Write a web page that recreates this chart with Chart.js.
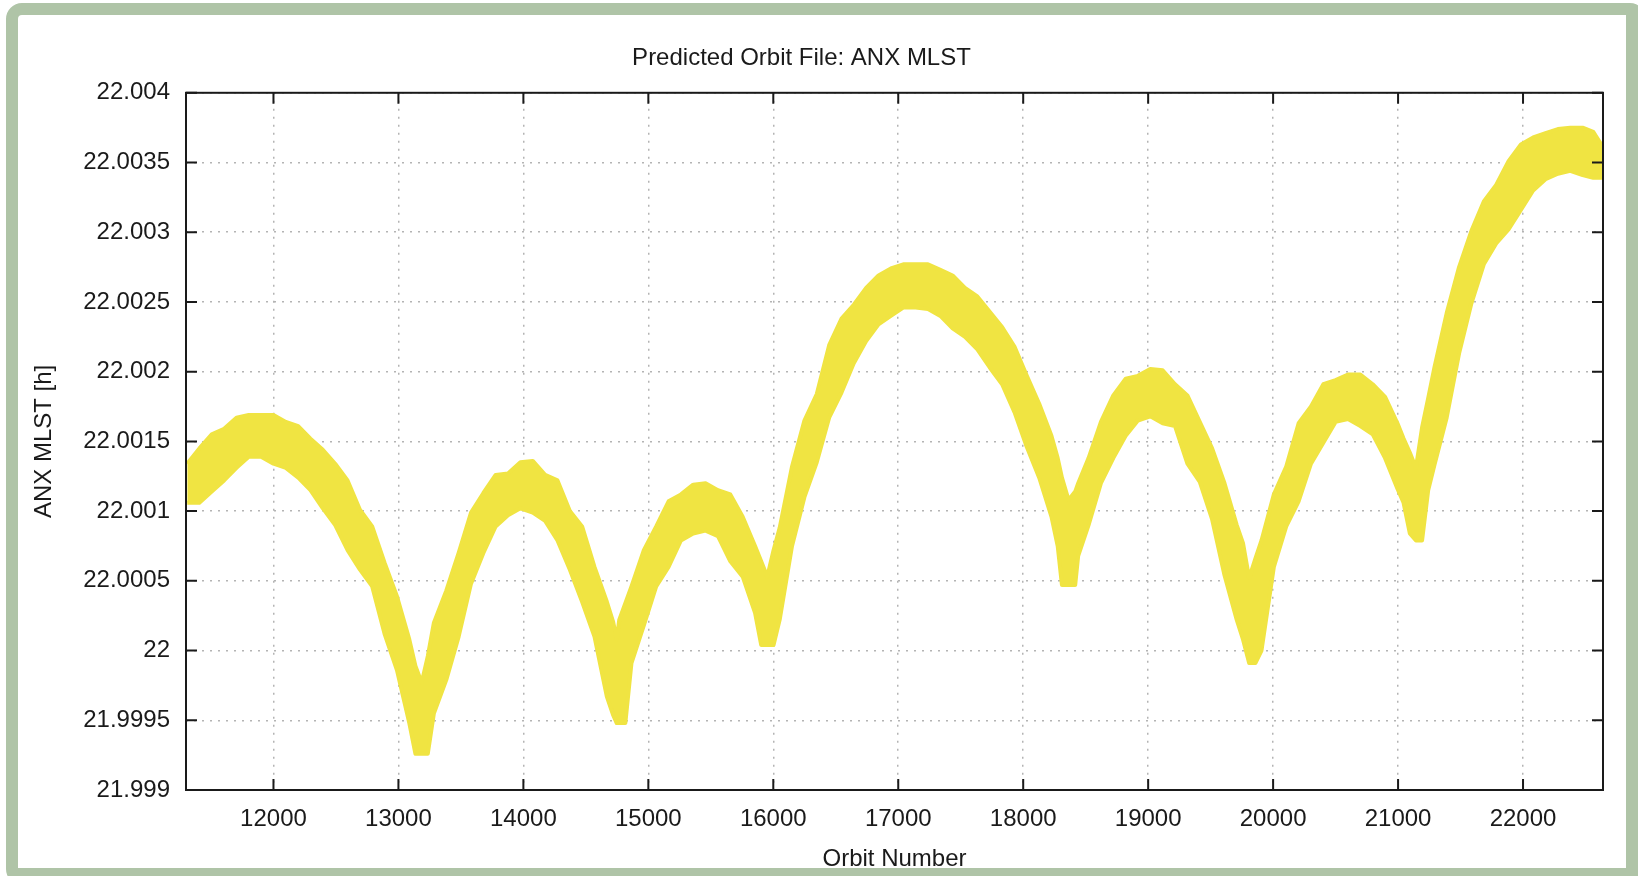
<!DOCTYPE html>
<html lang="en">
<head>
    <meta charset="UTF-8">
    <title>Predicted Orbit File: ANX MLST</title>
    <script src="https://cdn.jsdelivr.net/npm/chart.js"></script>
    <style>
        html, body { margin: 0; padding: 0; background: #fff; overflow: hidden; }
        #frame {
            position: absolute; left: 6px; top: 3px; width: 1640px; height: 882px;
            box-sizing: border-box; border: 12px solid #afc4a7;
            border-right-width: 20px; border-bottom-width: 17px;
            border-radius: 16px; background: #fff;
        }
        #wrap { position: absolute; left: 0; top: 0; width: 1638px; height: 876px; }
    </style>
</head>
<body>
    <div id="frame"></div>
    <div id="wrap"><canvas id="mlstChart"></canvas></div>

    <script>
        // orbit numbers and the upper / lower edge of the MLST band (hours)
        const orbits = [
            11310, 11407, 11506, 11605, 11704, 11802, 11901, 12000, 12099, 12198,
            12296, 12395, 12494, 12593, 12692, 12790, 12889, 12988, 13087, 13136,
            13186, 13235, 13284, 13383, 13482, 13581, 13680, 13778, 13877, 13976,
            14075, 14174, 14273, 14372, 14470, 14569, 14668, 14717, 14747, 14767,
            14816, 14865, 14964, 15063, 15162, 15261, 15359, 15458, 15557, 15656,
            15755, 15854, 15903, 15952, 16002, 16051, 16150, 16249, 16348, 16447,
            16546, 16644, 16743, 16842, 16941, 17040, 17139, 17238, 17337, 17435,
            17534, 17633, 17732, 17831, 17930, 18029, 18128, 18226, 18276, 18310,
            18363, 18416, 18440, 18523, 18622, 18721, 18820, 18918, 19017, 19116,
            19215, 19314, 19413, 19512, 19611, 19709, 19759, 19808, 19858, 19907,
            20006, 20105, 20204, 20303, 20402, 20500, 20599, 20698, 20797, 20896,
            20995, 21044, 21094, 21143, 21192, 21241, 21291, 21389, 21488, 21587,
            21686, 21785, 21884, 21983, 22081, 22180, 22279, 22378, 22477, 22562,
            22640
        ];
        const mlstUpper = [
            22.00134, 22.00145, 22.00155, 22.00159, 22.00167, 22.00169, 22.00169, 22.00169, 22.00164, 22.00161,
            22.00152, 22.00144, 22.00134, 22.00122, 22.00101, 22.00089, 22.00063, 22.00039, 22.00008, 21.99989,
            21.99977, 21.99996, 22.00020, 22.00043, 22.00070, 22.00099, 22.00113, 22.00126, 22.00127, 22.00135,
            22.00136, 22.00126, 22.00122, 22.00100, 22.00089, 22.00060, 22.00035, 22.00021, 22.00008, 22.00022,
            22.00034, 22.00046, 22.00072, 22.00089, 22.00107, 22.00112, 22.00119, 22.00120, 22.00115, 22.00112,
            22.00096, 22.00075, 22.00064, 22.00053, 22.00072, 22.00088, 22.00132, 22.00165, 22.00184, 22.00219,
            22.00238, 22.00248, 22.00260, 22.00269, 22.00274, 22.00277, 22.00277, 22.00277, 22.00273, 22.00269,
            22.00260, 22.00254, 22.00243, 22.00232, 22.00218, 22.00197, 22.00177, 22.00154, 22.00138, 22.00124,
            22.00108, 22.00114, 22.00120, 22.00138, 22.00164, 22.00183, 22.00195, 22.00197, 22.00202, 22.00201,
            22.00191, 22.00183, 22.00164, 22.00145, 22.00120, 22.00090, 22.00077, 22.00052, 22.00066, 22.00079,
            22.00112, 22.00132, 22.00163, 22.00175, 22.00191, 22.00194, 22.00198, 22.00198, 22.00191, 22.00182,
            22.00163, 22.00152, 22.00142, 22.00131, 22.00160, 22.00181, 22.00203, 22.00242, 22.00275, 22.00301,
            22.00322, 22.00334, 22.00351, 22.00363, 22.00368, 22.00371, 22.00374, 22.00375, 22.00375, 22.00372,
            22.00361
        ];
        const mlstLower = [
            22.00106, 22.00106, 22.00114, 22.00122, 22.00131, 22.00139, 22.00139, 22.00134, 22.00131, 22.00124,
            22.00115, 22.00102, 22.00090, 22.00072, 22.00058, 22.00046, 22.00012, 21.99986, 21.99948, 21.99926,
            21.99926, 21.99926, 21.99955, 21.99979, 22.00010, 22.00048, 22.00070, 22.00089, 22.00097, 22.00102,
            22.00099, 22.00093, 22.00079, 22.00058, 22.00035, 22.00010, 21.99967, 21.99954, 21.99948, 21.99948,
            21.99948, 21.99991, 22.00018, 22.00046, 22.00060, 22.00079, 22.00084, 22.00086, 22.00082, 22.00064,
            22.00053, 22.00027, 22.00004, 22.00004, 22.00004, 22.00022, 22.00075, 22.00110, 22.00135, 22.00167,
            22.00185, 22.00206, 22.00222, 22.00234, 22.00240, 22.00246, 22.00246, 22.00245, 22.00240, 22.00231,
            22.00225, 22.00216, 22.00203, 22.00191, 22.00171, 22.00146, 22.00124, 22.00096, 22.00075, 22.00047,
            22.00047, 22.00047, 22.00068, 22.00090, 22.00120, 22.00138, 22.00154, 22.00165, 22.00168, 22.00163,
            22.00161, 22.00134, 22.00121, 22.00094, 22.00054, 22.00022, 22.00008, 21.99991, 21.99991, 22.00000,
            22.00060, 22.00089, 22.00107, 22.00134, 22.00149, 22.00164, 22.00166, 22.00161, 22.00155, 22.00138,
            22.00116, 22.00106, 22.00084, 22.00079, 22.00079, 22.00115, 22.00133, 22.00167, 22.00213, 22.00249,
            22.00277, 22.00292, 22.00302, 22.00316, 22.00330, 22.00338, 22.00342, 22.00344, 22.00341, 22.00339,
            22.00339
        ];
        const xTicks = [12000, 13000, 14000, 15000, 16000, 17000, 18000, 19000, 20000, 21000, 22000];
        const yTicks = [21.999, 21.9995, 22, 22.0005, 22.001, 22.0015, 22.002, 22.0025, 22.003, 22.0035, 22.004];
        const xRange = [11300, 22640];
        const yRange = [21.999, 22.004];

        const bandColor = '#f0e442';
        const inkColor = '#1a1a1a';

        // frame round the plot plus inward tick marks on all four sides
        const frameTicks = {
            id: 'frameTicks',
            afterDraw(chart) {
                const { ctx, chartArea: a, scales: { x, y } } = chart;
                const len = 11;
                ctx.save();
                ctx.strokeStyle = inkColor;
                ctx.lineWidth = 2;
                ctx.strokeRect(a.left, a.top, a.right - a.left, a.bottom - a.top);
                ctx.beginPath();
                x.ticks.forEach(t => {
                    const px = x.getPixelForValue(t.value);
                    ctx.moveTo(px, a.bottom); ctx.lineTo(px, a.bottom - len);
                    ctx.moveTo(px, a.top); ctx.lineTo(px, a.top + len);
                });
                y.ticks.forEach(t => {
                    const py = y.getPixelForValue(t.value);
                    ctx.moveTo(a.left, py); ctx.lineTo(a.left + len, py);
                    ctx.moveTo(a.right, py); ctx.lineTo(a.right - len, py);
                });
                ctx.stroke();
                ctx.restore();
            }
        };

        Chart.defaults.font.family = '"Liberation Sans", Arial, Helvetica, sans-serif';
        Chart.defaults.font.size = 24;
        Chart.defaults.color = inkColor;

        const ctx = document.getElementById('mlstChart').getContext('2d');
        new Chart(ctx, {
            type: 'line',
            data: {
                datasets: [
                    {
                        label: 'upper',
                        data: orbits.map((o, i) => ({ x: o, y: mlstUpper[i] })),
                        borderColor: bandColor,
                        borderWidth: 4,
                        borderJoinStyle: 'round',
                        pointRadius: 0,
                        fill: false
                    },
                    {
                        label: 'lower',
                        data: orbits.map((o, i) => ({ x: o, y: mlstLower[i] })),
                        borderColor: bandColor,
                        backgroundColor: bandColor,
                        borderWidth: 4,
                        borderJoinStyle: 'round',
                        pointRadius: 0,
                        fill: '-1'
                    }
                ]
            },
            options: {
                responsive: true,
                maintainAspectRatio: false,
                animation: false,
                events: [],
                layout: { padding: { left: 0, right: 35, top: 0, bottom: 0 } },
                plugins: {
                    legend: { display: false },
                    tooltip: { enabled: false },
                    title: {
                        display: true,
                        text: 'Predicted Orbit File: ANX MLST',
                        font: { size: 24, weight: 'normal' },
                        padding: { top: 44, bottom: 20 }
                    }
                },
                scales: {
                    x: {
                        type: 'linear',
                        min: xRange[0],
                        max: xRange[1],
                        afterFit: s => { s.height = 86; },
                        afterBuildTicks: s => { s.ticks = xTicks.map(v => ({ value: v })); },
                        ticks: {
                            maxRotation: 0,
                            autoSkip: false,
                            padding: 15,
                            callback: v => String(v)
                        },
                        grid: { color: '#b4b4b4', lineWidth: 1.5, drawTicks: false },
                        border: { display: false, dash: [2, 6] },
                        title: {
                            display: true,
                            text: 'Orbit Number',
                            font: { size: 24 },
                            padding: { top: 0, bottom: 2 }
                        }
                    },
                    y: {
                        min: yRange[0],
                        max: yRange[1],
                        afterFit: s => { s.width = 186; },
                        afterBuildTicks: s => { s.ticks = yTicks.map(v => ({ value: v })); },
                        ticks: {
                            padding: 16,
                            callback: v => String(+v.toFixed(4))
                        },
                        grid: { color: '#b4b4b4', lineWidth: 1.5, drawTicks: false },
                        border: { display: false, dash: [2, 6] },
                        title: {
                            display: true,
                            text: 'ANX MLST [h]',
                            font: { size: 24 },
                            padding: { top: 30, bottom: 0 }
                        }
                    }
                }
            },
            plugins: [frameTicks]
        });
    </script>
</body>
</html>
